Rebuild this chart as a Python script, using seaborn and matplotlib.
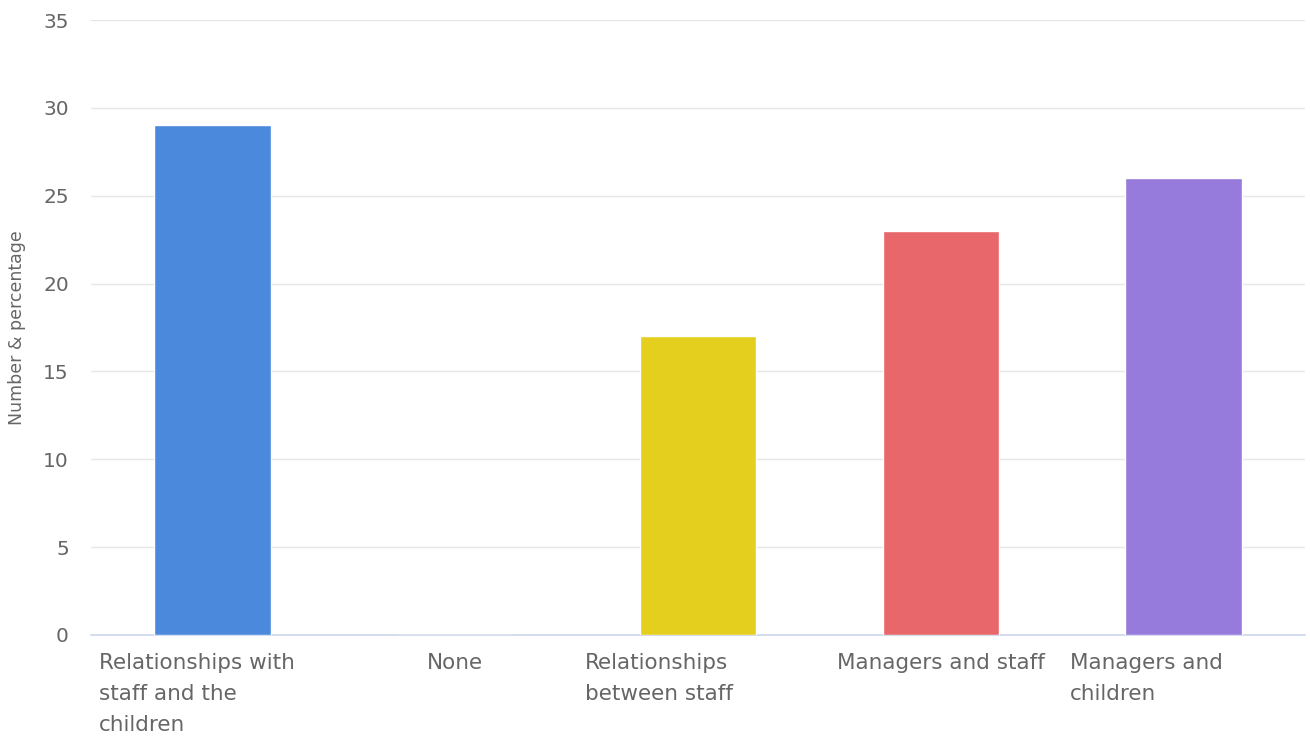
import matplotlib
matplotlib.use("Agg")
import matplotlib.pyplot as plt
import matplotlib.transforms as mtransforms
import seaborn as sns
import pandas as pd

categories = [
    "Relationships with\nstaff and the\nchildren",
    "None",
    "Relationships\nbetween staff",
    "Managers and staff",
    "Managers and\nchildren",
]
values = [29, 0, 17, 23, 26]
colors = ["#4A89DC", "#4A89DC", "#E4CF1F", "#E8676B", "#967ADC"]
y_ticks = [0, 5, 10, 15, 20, 25, 30, 35]
y_label = "Number & percentage"

sns.set_theme(style="white")
plt.rcParams["font.family"] = ["DejaVu Sans"]

df = pd.DataFrame({"category": categories, "value": values})

fig = plt.figure(figsize=(13.1, 7.4), dpi=100)
ax = fig.add_axes([91 / 1310, 1 - 635 / 740, (1305 - 91) / 1310, (635 - 20) / 740])

sns.barplot(data=df, x="category", y="value", hue="category", palette=colors,
            saturation=1, legend=False, width=0.48, edgecolor="white",
            linewidth=1, ax=ax, zorder=3)

ax.set_ylim(0, 35)
ax.set_xlim(-0.5, len(categories) - 0.5)
ax.set_yticks(y_ticks)
ax.set_yticklabels([str(t) for t in y_ticks], fontsize=14.5, color="#666666")
ax.tick_params(axis="y", length=0, pad=16)
ax.tick_params(axis="x", length=0)
ax.set_xticklabels([])
ax.set_xlabel("")
ax.set_ylabel("")
fig.text(17 / 1310, 1 - 328 / 740, y_label, rotation=90, ha="center", va="center",
         fontsize=12.5, color="#666666")

ax.grid(axis="y", color="#e6e6e6", linewidth=1, zorder=0)
for side in ["top", "right", "left"]:
    ax.spines[side].set_visible(False)
ax.spines["bottom"].set_color("#ccd6eb")
ax.spines["bottom"].set_linewidth(1.2)

# category labels: wrapped ones left-aligned in their slot, single lines centred
trans = mtransforms.blended_transform_factory(ax.transData, ax.transAxes)
slot_pad = 8 / ((1305 - 91) / len(categories))
for i, label in enumerate(categories):
    if "\n" in label:
        x, ha = i - 0.5 + slot_pad, "left"
    else:
        x, ha = i, "center"
    ax.text(x, -0.029, label, transform=trans, ha=ha, va="top", fontsize=15.5,
            color="#666666", linespacing=1.69)

fig.savefig("out.png", dpi=100, facecolor="white")
